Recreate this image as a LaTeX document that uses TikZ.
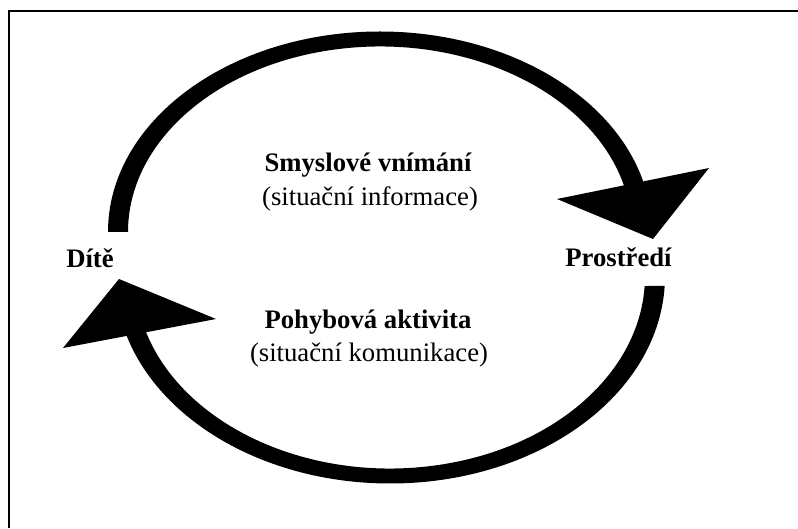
\documentclass[tikz,border=0pt]{standalone}
\usepackage{fontspec}
\setmainfont{Liberation Serif}
\usetikzlibrary{calc}
\begin{document}
\begin{tikzpicture}[x=1pt,y=1pt,
  caption/.style={inner sep=0pt, anchor=base, font=\fontsize{26.7pt}{32pt}\selectfont},
  heading/.style={caption, font=\fontsize{26.7pt}{32pt}\selectfont\bfseries},
  band/.style={fill=black},
  head/.style={fill=black},
  frame/.style={line width=2pt, draw=black}]
\useasboundingbox (0,0) rectangle (798,528);

% frame lines along the top and left edges
\draw[frame] (9,0) -- (9,517) -- (798,517);

% labels
\node[heading] (child) at (90,260) {Dítě};
\node[heading] (env) at (618.5,261) {Prostředí};
\node[heading] (sense) at (368,356.5) {Smyslové vnímání};
\node[caption] (senseinfo) at (370,322) {(situační informace)};
\node[heading] (motion) at (368,199.7) {Pohybová aktivita};
\node[caption] (motioncomm) at (369,167) {(situační komunikace)};

% centres of the two elliptical bands
\coordinate (upc) at (380,296);
\coordinate (loc) at (390,252);

% upper band: from above "Dítě" over the top towards "Prostředí"
\fill[band] (upc) ++(180:272 and 200.5)
  arc[start angle=180, end angle=12, x radius=272, y radius=200.5]
  -- ($(upc)+(12:252 and 185.5)$)
  arc[start angle=12, end angle=180, x radius=252, y radius=185.5]
  -- cycle;

% lower band: from below "Prostředí" under the bottom back towards "Dítě"
\fill[band] (loc) ++(-2.76:275 and 207.5)
  arc[start angle=-2.76, end angle=-168, x radius=275, y radius=207.5]
  -- ($(loc)+(-168:255 and 192.5)$)
  arc[start angle=-168, end angle=-2.98, x radius=255, y radius=192.5]
  -- cycle;

% arrowheads
\coordinate (ra) at (557,329);
\coordinate (rb) at (709,360);
\coordinate (rtip) at (653,289);
\fill[head] (ra) -- (rb) -- (rtip) -- cycle;

\coordinate (la) at (216,209);
\coordinate (lb) at (63,180);
\coordinate (ltip) at (119,249);
\fill[head] (la) -- (lb) -- (ltip) -- cycle;
\end{tikzpicture}
\end{document}
